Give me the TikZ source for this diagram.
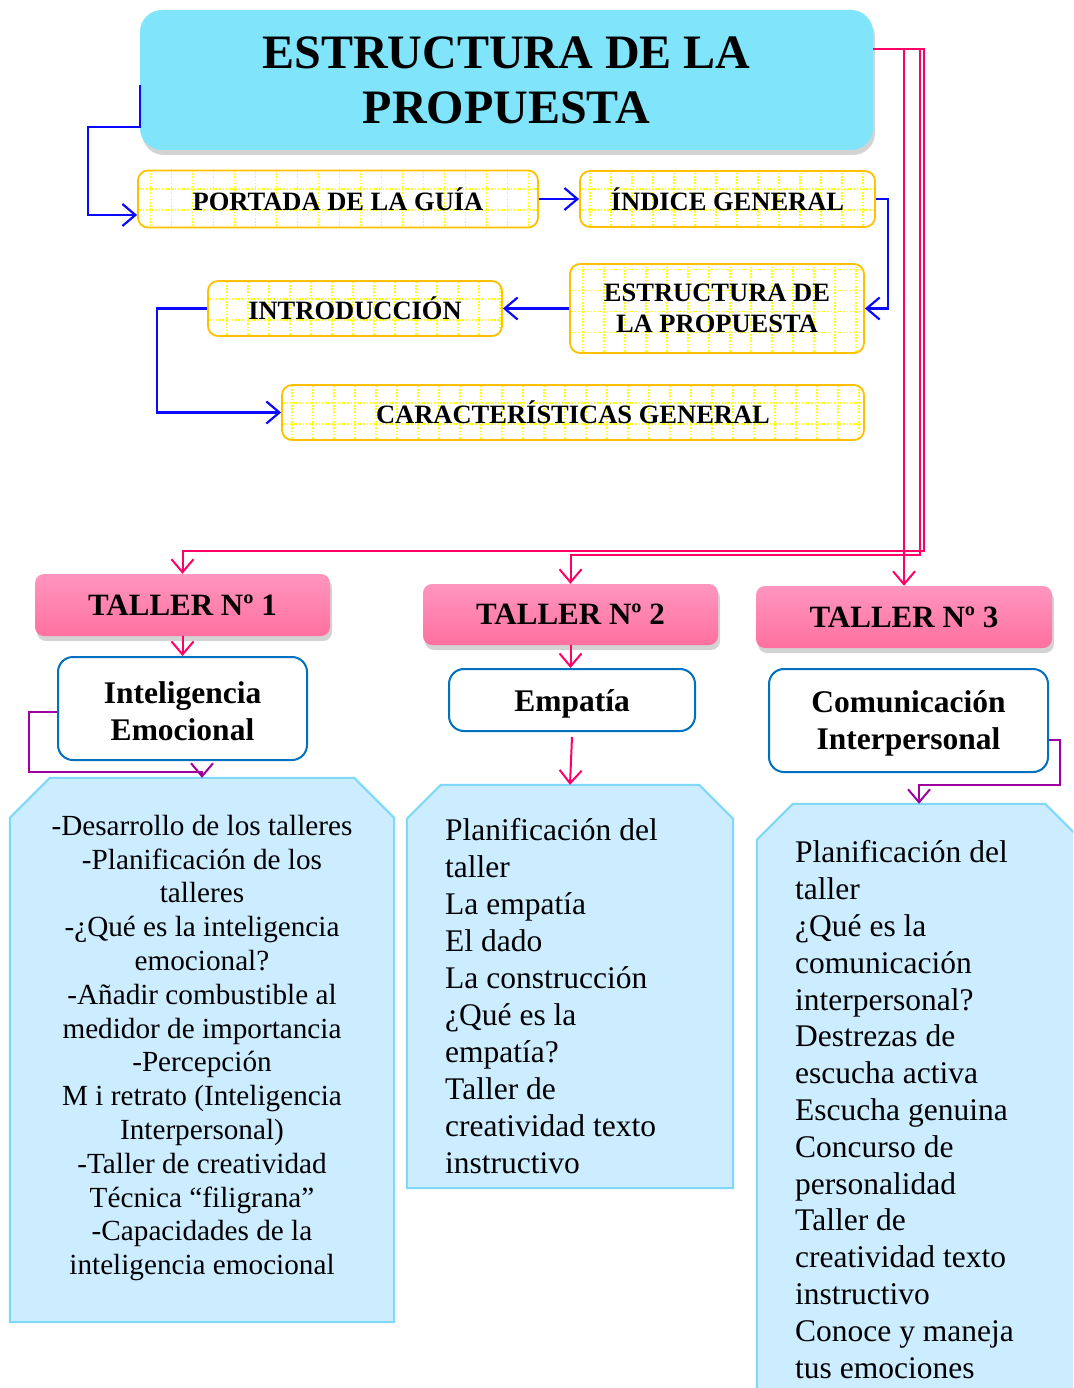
\documentclass[tikz,border=0pt]{standalone}
\usepackage{fontspec}
\setmainfont{Liberation Serif}
\usetikzlibrary{arrows.meta,shadows,calc}
\definecolor{titlecyan}{RGB}{128,229,250}
\definecolor{yborder}{RGB}{255,192,0}
\definecolor{ygrid}{RGB}{255,255,0}
\definecolor{pinkbox}{RGB}{255,112,160}
\definecolor{pinktop}{RGB}{255,150,190}
\definecolor{pinkline}{RGB}{255,0,102}
\definecolor{blueline}{RGB}{10,10,255}
\definecolor{purpline}{RGB}{160,0,160}
\definecolor{wborder}{RGB}{0,112,192}
\definecolor{cfill}{RGB}{204,236,255}
\definecolor{cborder}{RGB}{128,216,248}
\begin{document}
\begin{tikzpicture}[x=1pt,y=-1pt,
  titlebox/.style={fill=titlecyan, rounded corners=22pt, inner sep=0pt,
    drop shadow={shadow xshift=2pt, shadow yshift=-5pt, opacity=0.35},
    font=\fontsize{48}{55}\selectfont\bfseries, align=center},
  ybox/.style={draw=yborder, line width=1.8pt, rounded corners=10pt, fill=white, inner sep=0pt,
    font=\fontsize{26.5}{31}\selectfont\bfseries, align=center,
    path picture={\draw[ygrid, line width=1.6pt, dash pattern=on 1.6pt off 1.6pt]
      ([xshift=-5pt,yshift=-5pt]path picture bounding box.south west) grid[xstep=21pt,ystep=21pt]
      ([xshift=5pt,yshift=5pt]path picture bounding box.north east);}},
  tbox/.style={top color=pinktop, bottom color=pinkbox, rounded corners=9pt, inner sep=0pt,
    drop shadow={shadow xshift=2pt, shadow yshift=-5pt, opacity=0.35},
    font=\fontsize{31}{36}\selectfont\bfseries},
  wbox/.style={draw=wborder, line width=2pt, fill=white, rounded corners=15pt, inner sep=0pt},
  wtext/.style={inner sep=0pt, font=\fontsize{31.5}{37}\selectfont\bfseries, align=center},
  cbox/.style={draw=cborder, line width=2pt, fill=cfill},
  frame/.style={inner sep=0pt, draw=none},
  arr/.style={-{Straight Barb[length=13pt,width=22pt]}},
  bl/.style={draw=blueline, line width=2.2pt, arr},
  pk/.style={draw=pinkline, line width=2pt, arr},
  pu/.style={draw=purpline, line width=2pt, arr}
]
\useasboundingbox (0,0) rectangle (1073,1388);
\clip (0,0) rectangle (1073,1388);

% title
\node[titlebox, minimum width=733pt, minimum height=140pt] (title) at (506.5,80) {ESTRUCTURA DE LA\\PROPUESTA};

% yellow boxes
\node[ybox, minimum width=400pt, minimum height=57pt] (portada) at (338,199) {PORTADA DE LA GUÍA};
\node[ybox, minimum width=295pt, minimum height=56pt] (indice) at (727.5,199) {ÍNDICE GENERAL};
\node[ybox, minimum width=294pt, minimum height=89pt] (estr) at (717,308.5) {ESTRUCTURA DE\\LA PROPUESTA};
\node[ybox, minimum width=294pt, minimum height=55pt] (intro) at (355,308.5) {INTRODUCCIÓN};
\node[ybox, minimum width=582pt, minimum height=55pt] (carac) at (573,412.5) {CARACTERÍSTICAS GENERAL};

% blue connectors
\draw[bl] ([yshift=-5pt]title.west) -- ++(0,42) -- ++(-52,0) |- ([yshift=-16pt]portada.west);
\draw[bl] (portada.east) -- (indice.west);
\draw[bl] (indice.east) -- ++(12,0) |- (estr.east);
\draw[bl] (estr.west) -- (intro.east);
\draw[bl] (intro.west) -- ++(-50,0) |- (carac.west);

% taller boxes
\node[tbox, minimum width=295pt, minimum height=62pt] (t1) at (182.5,605) {TALLER Nº 1};
\node[tbox, minimum width=295pt, minimum height=61pt] (t2) at (570.5,614.5) {TALLER Nº 2};
\node[tbox, minimum width=296pt, minimum height=62pt] (t3) at (904,617) {TALLER Nº 3};

% pink connectors from title
\draw[pk] ([yshift=31pt]title.east) -- ++(51,0) -- ++(0,502) -| (t1.north);
\draw[pk] ([yshift=31pt]title.east) -- ++(47,0) -- ++(0,506) -| (t2.north);
\draw[pk] ([yshift=31pt]title.east) -| (t3.north);

% white boxes
\node[wbox, minimum width=249pt, minimum height=103pt] (ie) at (182.5,708.5) {};
\node[wbox, minimum width=246pt, minimum height=62pt] (emp) at (572,700) {};
\node[wbox, minimum width=279pt, minimum height=103pt] (ci) at (908.5,720.5) {};
\node[wtext] (ietx) at ([yshift=-3pt]ie.center) {Inteligencia\\Emocional};
\node[wtext] (emptx) at ([yshift=-4pt]emp.center) {Empatía};
\node[wtext] (citx) at ([yshift=-3pt]ci.center) {Comunicación\\Interpersonal};

\draw[pk] (t1.south) -- (ie.north);
\draw[pk] (t2.south) -- (t2.south |- emp.north);

% content frames
\node[frame, minimum width=384pt, minimum height=544pt] (c1) at (202,1050) {};
\node[frame, minimum width=326pt, minimum height=403pt] (c2) at (570,986.5) {};
\node[frame, minimum width=324pt, minimum height=596pt] (c3) at (919,1102) {};

\draw[cbox] ([xshift=40pt]c1.north west) -- ([xshift=-40pt]c1.north east) -- ([yshift=-40pt]c1.north east)
  -- (c1.south east) -- (c1.south west) -- ([yshift=-40pt]c1.north west) -- cycle;
\draw[cbox] ([xshift=34pt]c2.north west) -- ([xshift=-34pt]c2.north east) -- ([yshift=-34pt]c2.north east)
  -- (c2.south east) -- (c2.south west) -- ([yshift=-34pt]c2.north west) -- cycle;
\draw[cbox] ([xshift=36pt]c3.north west) -- ([xshift=-36pt]c3.north east) -- ([yshift=-36pt]c3.north east)
  -- (c3.south east) -- (c3.south west) -- ([yshift=-36pt]c3.north west) -- cycle;

% connectors to content
\draw[pu] (ie.west |- 0,712) -- ++(-28,0) |- ([yshift=6pt]c1.north) -- (c1.north);
\draw[pk] ([yshift=-5pt]emp.south) -- (c2.north);
\draw[pu] (ci.east |- 0,740) -- ++(11,0) |- ([yshift=19pt]c3.north) -- (c3.north);

% content text
\node[inner sep=0pt, align=center, font=\fontsize{29.2}{33.8}\selectfont] (tx1) at (202,1048) {%
-Desarrollo de los talleres\\
-Planificación de los\\
talleres\\
-¿Qué es la inteligencia\\
emocional?\\
-Añadir combustible al\\
medidor de importancia\\
-Percepción\\
M i retrato (Inteligencia\\
Interpersonal)\\
-Taller de creatividad\\
Técnica “filigrana”\\
-Capacidades de la\\
inteligencia emocional};

\node[inner sep=0pt, align=left, anchor=west, font=\fontsize{31.5}{36.9}\selectfont] (tx2) at (445,996) {%
Planificación del\\
taller\\
La empatía\\
El dado\\
La construcción\\
¿Qué es la\\
empatía?\\
Taller de\\
creatividad texto\\
instructivo};

\node[inner sep=0pt, align=left, anchor=west, font=\fontsize{31.5}{36.8}\selectfont] (tx3) at (795,1109.5) {%
Planificación del\\
taller\\
¿Qué es la\\
comunicación\\
interpersonal?\\
Destrezas de\\
escucha activa\\
Escucha genuina\\
Concurso de\\
personalidad\\
Taller de\\
creatividad texto\\
instructivo\\
Conoce y maneja\\
tus emociones};
\end{tikzpicture}
\end{document}
